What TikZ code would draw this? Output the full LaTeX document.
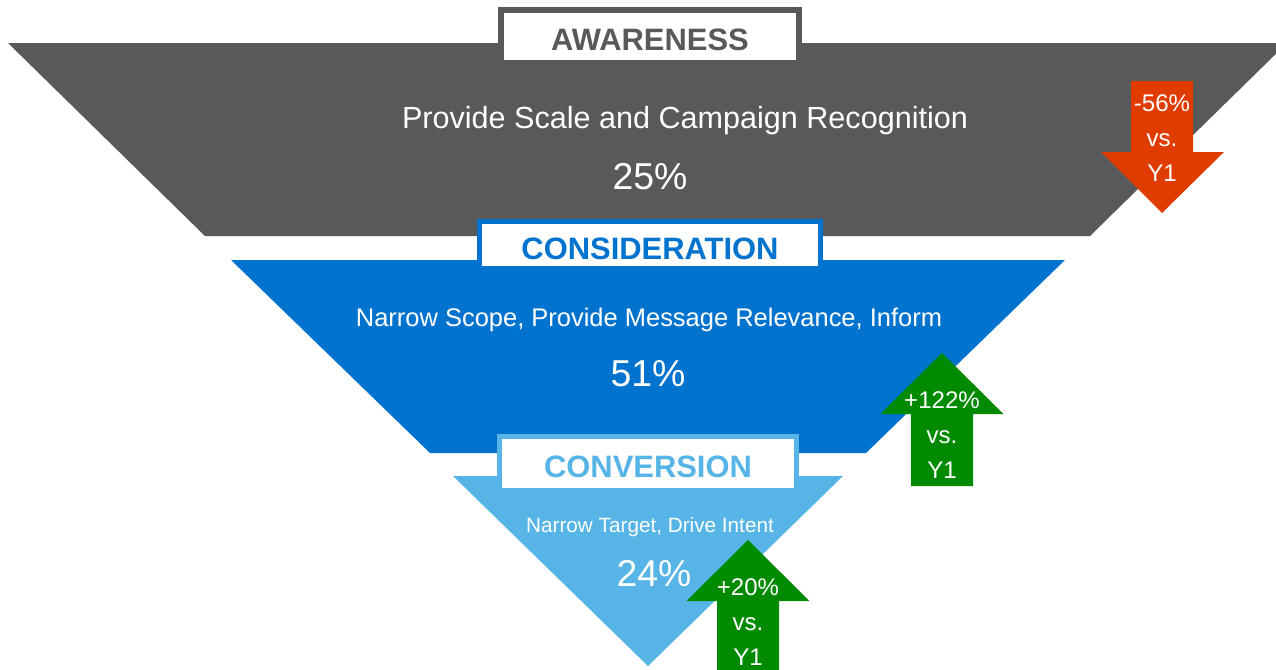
\documentclass[tikz,border=0pt]{standalone}
\usepackage{fontspec}
\setmainfont{Liberation Sans}
\definecolor{gris}{HTML}{58595B}
\definecolor{bleu}{HTML}{0073CF}
\definecolor{ciel}{HTML}{56B5E6}
\definecolor{rouge}{HTML}{E03C00}
\definecolor{vert}{HTML}{008A00}
\begin{document}
\begin{tikzpicture}[x=0.02cm,y=-0.02cm]
  \tikzstyle{bandeau}=[draw, fill=white, line width=3pt, inner sep=0pt,
  text height=16pt, text depth=0pt, font=\bfseries\fontsize{17.6}{20}\selectfont]
  \tikzstyle{texte}=[text=white, inner sep=0pt]
  \tikzstyle{pourcent}=[texte, font=\fontsize{21.3}{24}\selectfont]
  \tikzstyle{variation}=[texte, align=center, font=\fontsize{13.7}{19.9}\selectfont]
  \useasboundingbox (0,0) rectangle (1276,670);
  % les trois etages de l'entonnoir
  \fill[gris] (8,43) -- (1287,43) -- (1090,236) -- (205,236) -- cycle;
  \fill[bleu] (231,260) -- (1065,260) -- (866,453) -- (430,453) -- cycle;
  \fill[ciel] (453,476) -- (843,476) -- (648,666) -- cycle;
  % textes
  \node[texte, font=\fontsize{17.4}{20}\selectfont] (role1) at (685,121) {Provide Scale and Campaign Recognition};
  \node[pourcent] (part1) at (650,177) {25\%};
  \node[texte, font=\fontsize{14.5}{17}\selectfont] (role2) at (649,320) {Narrow Scope, Provide Message Relevance, Inform};
  \node[pourcent] (part2) at (648,374) {51\%};
  \node[texte, font=\fontsize{11.8}{14}\selectfont] (role3) at (650,527) {Narrow Target, Drive Intent};
  \node[pourcent] (part3) at (654,574) {24\%};
  % bandeaux
  \node[bandeau, draw=gris, text=gris, line width=3.4pt, minimum width=5.96cm,
  minimum height=1.06cm] (awareness) at (650,36.5) {AWARENESS};
  \node[bandeau, draw=bleu, text=bleu, line width=2.85pt, minimum width=6.82cm,
  minimum height=0.94cm] (consideration) at (650,245) {CONSIDERATION};
  \node[bandeau, draw=ciel, text=ciel, line width=2.85pt, minimum width=5.94cm,
  minimum height=1.08cm] (conversion) at (648,463.5) {CONVERSION};
  % evolution par rapport a Y1
  \fill[rouge] (1131,81) -- (1193,81) -- (1193,152) -- (1224,152) -- (1162,213)
  -- (1101,152) -- (1131,152) -- cycle;
  \node[variation] (baisse) at (1162,138) {-56\%\\vs.\\Y1};
  \foreach \n/\x/\y/\b/\t in {hausse1/942/353/486/+122\%,hausse2/748/540/680/+20\%} {
    \fill[vert] (\x,\y) -- (\x+61.5,\y+61) -- (\x+31,\y+61) -- (\x+31,\b)
    -- (\x-31,\b) -- (\x-31,\y+61) -- (\x-61.5,\y+61) -- cycle;
    \node[variation] (\n) at (\x,\y+82) {\t\\vs.\\Y1};
  }
\end{tikzpicture}
\end{document}
